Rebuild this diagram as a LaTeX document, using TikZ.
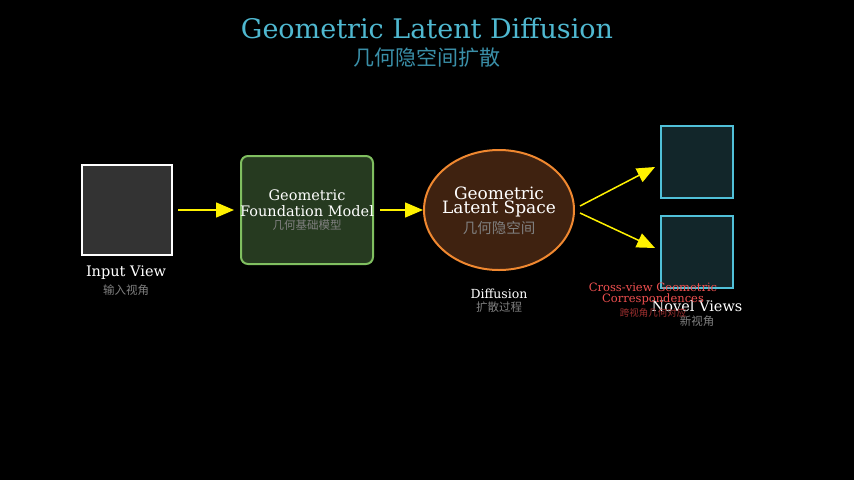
\documentclass[tikz,border=0pt]{standalone}
\usepackage{fontspec}
\setmainfont{DejaVu Serif}
\newfontfamily\cjk{Noto Sans CJK SC}
\usetikzlibrary{shapes.geometric,arrows.meta}
\definecolor{titlecolor}{HTML}{4FB8D0}
\definecolor{subcolor}{HTML}{3A8FA8}
\definecolor{FMfill}{HTML}{263A20}
\definecolor{FMdraw}{HTML}{80BF60}
\definecolor{LSfill}{HTML}{3F2210}
\definecolor{LSdraw}{HTML}{F08830}
\definecolor{NVfill}{HTML}{12262A}
\definecolor{NVdraw}{HTML}{50C0D8}
\definecolor{CVcolor}{HTML}{F05050}
\definecolor{CVcjk}{HTML}{A03030}

\begin{document}
\begin{tikzpicture}[x=1pt, y=-1pt,
    label/.style={text=white, font=\fontsize{14.5pt}{15pt}\selectfont, inner sep=0pt},
    cjklabel/.style={text=gray, font=\cjk\fontsize{11.5pt}{12pt}\selectfont, inner sep=0pt},
    flow/.style={yellow, line width=1.5pt, -{Triangle[length=18pt, width=15pt]}},
    view/.style={draw=NVdraw, fill=NVfill, line width=2pt}
]

    \fill [black] (0, 0) rectangle (854, 480);

    % title
    \node [text=titlecolor, font=\fontsize{27pt}{28pt}\selectfont] (title) at (427, 28) {Geometric Latent Diffusion};
    \node [text=subcolor, font=\cjk\fontsize{21pt}{22pt}\selectfont] (subtitle) at (427, 58) {几何隐空间扩散};

    % input view
    \draw [white, fill=black!80, line width=2pt] (82, 165) rectangle (172, 255);
    \coordinate (input) at (172, 210);
    \node [label] (inputtxt) at (126, 273) {Input View};
    \node [cjklabel] (inputcjk) at (126, 290) {输入视角};

    % foundation model
    \draw [FMdraw, fill=FMfill, line width=2pt, rounded corners=7pt] (241, 156) rectangle (373, 264);
    \coordinate (fmW) at (241, 210);
    \coordinate (fmE) at (373, 210);
    \node [label] (fm1) at (307, 195) {Geometric};
    \node [label] (fm2) at (307, 211) {Foundation Model};
    \node [cjklabel] (fmcjk) at (307, 225) {几何基础模型};

    % latent space
    \node [ellipse, draw=LSdraw, fill=LSfill, line width=2pt, minimum width=150pt, minimum height=120pt] (latent) at (499, 210) {};
    \node [label, font=\fontsize{17pt}{18pt}\selectfont] (ls1) at (499, 193) {Geometric};
    \node [label, font=\fontsize{17pt}{18pt}\selectfont] (ls2) at (499, 209) {Latent Space};
    \node [cjklabel, font=\cjk\fontsize{14.5pt}{15pt}\selectfont] (lscjk) at (499, 228) {几何隐空间};

    \node [label, font=\fontsize{12.5pt}{13pt}\selectfont] (diff) at (499, 294) {Diffusion};
    \node [cjklabel] (diffcjk) at (499, 307) {扩散过程};

    % novel views
    \draw [view] (661, 126) rectangle (733, 198);
    \draw [view] (661, 216) rectangle (733, 288);
    \coordinate (nv1) at (655, 167);
    \coordinate (nv2) at (655, 248);
    \node [label] (nvtxt) at (697, 306) {Novel Views};
    \node [cjklabel] (nvcjk) at (697, 321) {新视角};

    % correspondences
    \node [text=CVcolor, font=\fontsize{11.5pt}{12pt}\selectfont, inner sep=0pt] (cv1) at (653, 287) {Cross-view Geometric};
    \node [text=CVcolor, font=\fontsize{11.5pt}{12pt}\selectfont, inner sep=0pt] (cv2) at (653, 299) {Correspondences};
    \node [text=CVcjk, font=\cjk\fontsize{9.5pt}{10pt}\selectfont, inner sep=0pt] (cvcjk) at (653, 313) {跨视角几何对应};

    % arrows
    \draw [flow] ([xshift=6pt]input) -- ([xshift=-7pt]fmW);
    \draw [flow] ([xshift=7pt]fmE) -- (latent.west);
    \draw [flow] ([shift={(5pt,4pt)}]latent.east) -- (nv1);
    \draw [flow] ([shift={(5pt,-3pt)}]latent.east) -- (nv2);

\end{tikzpicture}
\end{document}
